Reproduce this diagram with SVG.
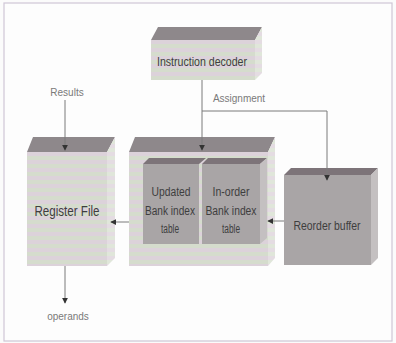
<svg xmlns="http://www.w3.org/2000/svg" width="396" height="343" viewBox="0 0 396 343">
<defs>
<pattern id="stripe" width="8" height="8" patternUnits="userSpaceOnUse">
<rect width="8" height="8" fill="#dcd2da"/>
<rect y="4" width="8" height="4" fill="#d5dccd"/>
</pattern>
<pattern id="stripe2" width="8" height="8" patternUnits="userSpaceOnUse">
<rect width="8" height="8" fill="#e4dce2"/>
<rect y="4" width="8" height="4" fill="#e0e6da"/>
</pattern>
<marker id="ah" viewBox="0 0 8 8" refX="7" refY="4" markerWidth="6" markerHeight="6" orient="auto">
<path d="M0,0 L8,4 L0,8 z" fill="#333"/>
</marker>
</defs>
<style>
.front{fill:url(#stripe);}
.top{fill:#8e888b;}
.side{fill:url(#stripe2);}
.gfront{fill:#a9a5a6;}
.gtop{fill:#7d7479;}
.gside{fill:#c4c0c1;}
.lbl{font-family:"Liberation Sans",Arial,sans-serif;fill:#3e3e3e;}
.small{font-family:"Liberation Sans",Arial,sans-serif;fill:#7a7a7a;font-size:10px;}
.con{fill:none;stroke:#7a7a7a;stroke-width:1;}
</style>
<rect x="0" y="0" width="396" height="343" fill="#fbfbfb"/>
<rect x="4" y="3" width="388" height="338" fill="#fdfdfd" stroke="#cfc6d6" stroke-width="1.2"/>

<g id="decoder">
<polygon class="top" points="151,40 158,27 262,27 255,40"/>
<polygon class="side" points="255,40 262,27 262,73 255,80"/>
<rect class="front" x="151" y="40" width="104" height="40"/>
<text class="lbl" x="202" y="66" font-size="12" text-anchor="middle" textLength="90" lengthAdjust="spacingAndGlyphs">Instruction decoder</text>
</g>

<g id="register-file">
<polygon class="top" points="27,152 33,137 115,137 107,152"/>
<polygon class="side" points="107,152 115,137 115,258 107,266"/>
<rect class="front" x="27" y="152" width="80" height="114"/>
<text class="lbl" x="67" y="216" font-size="14" text-anchor="middle" textLength="65" lengthAdjust="spacingAndGlyphs">Register File</text>
</g>

<g id="bank-tables">
<polygon class="top" points="129,152 135,137 275,137 268,152"/>
<polygon class="side" points="268,152 275,137 275,258 268,266"/>
<rect class="front" x="129" y="152" width="139" height="114"/>
<g id="updated-table">
<polygon class="gtop" points="143,164 149,158 206,158 199,164"/>
<rect class="gfront" x="143" y="164" width="56" height="80"/>
<text class="lbl" font-size="12" text-anchor="middle"><tspan x="171" y="196" textLength="39" lengthAdjust="spacingAndGlyphs">Updated</tspan><tspan x="170" y="215" textLength="50" lengthAdjust="spacingAndGlyphs">Bank index</tspan><tspan x="170" y="233" textLength="18" lengthAdjust="spacingAndGlyphs">table</tspan></text>
</g>
<g id="inorder-table">
<polygon class="gtop" points="202,164 208,158 267,158 260,164"/>
<polygon class="gside" points="260,164 267,158 267,238 260,244"/>
<rect class="gfront" x="202" y="164" width="58" height="80"/>
<text class="lbl" font-size="12" text-anchor="middle"><tspan x="231" y="196" textLength="37" lengthAdjust="spacingAndGlyphs">In-order</tspan><tspan x="231" y="215" textLength="51" lengthAdjust="spacingAndGlyphs">Bank index</tspan><tspan x="231" y="233" textLength="18" lengthAdjust="spacingAndGlyphs">table</tspan></text>
</g>
</g>

<g id="reorder-buffer">
<polygon class="gtop" points="284,175 291,168 378,168 371,175"/>
<polygon class="gside" points="371,175 378,168 378,258 371,265"/>
<rect class="gfront" x="284" y="175" width="87" height="90"/>
<text class="lbl" x="327" y="230" font-size="13" text-anchor="middle" textLength="67" lengthAdjust="spacingAndGlyphs">Reorder buffer</text>
</g>

<g id="connectors">
<path class="con" d="M202,80 V150" marker-end="url(#ah)"/>
<path class="con" d="M202,111 H327 V180" stroke="#a88aa8" marker-end="url(#ah)"/>
<path class="con" d="M65,100 V150" marker-end="url(#ah)"/>
<path class="con" d="M65,266 V303" marker-end="url(#ah)"/>
<path class="con" d="M129,222 H111" stroke="#6aa8c8" marker-end="url(#ah)"/>
<path class="con" d="M284,221 H268" stroke="#7ab8b8" marker-end="url(#ah)"/>
</g>

<text class="small" x="67" y="96" text-anchor="middle">Results</text>
<text class="small" x="239" y="102" text-anchor="middle">Assignment</text>
<text class="small" x="68" y="320" text-anchor="middle">operands</text>
</svg>
